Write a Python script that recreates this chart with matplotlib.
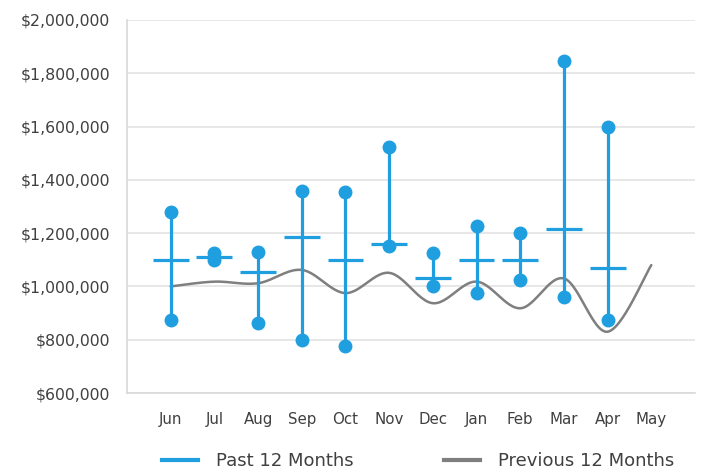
import numpy as np
import matplotlib
matplotlib.use("Agg")
import matplotlib.pyplot as plt
from matplotlib.lines import Line2D
from matplotlib.ticker import FuncFormatter

months = ["Jun", "Jul", "Aug", "Sep", "Oct", "Nov", "Dec", "Jan", "Feb", "Mar", "Apr", "May"]
past_high = [1280000, 1125000, 1130000, 1360000, 1355000, 1525000, 1125000, 1225000, 1200000, 1845000, 1598000]
past_low = [875000, 1098000, 862000, 800000, 775000, 1150000, 1000000, 975000, 1025000, 962000, 875000]
past_avg = [1100000, 1112000, 1055000, 1187000, 1100000, 1160000, 1033000, 1100000, 1100000, 1215000, 1070000]
previous = [1000000, 1018000, 1012000, 1062000, 975000, 1051000, 937000, 1018000, 918000, 1030000, 830000, 1080000]

BLUE = "#1f9fe0"
GRAY = "#7f7f7f"
TXT = "#404040"
GRID = "#e3e3e3"

fig = plt.figure(figsize=(7.01, 4.72), dpi=100)
ax = fig.add_axes([127/701, 1-393/472, (695-127)/701, (393-20)/472])

# smoothed previous-12-months line (Catmull-Rom bezier, like Excel's smooth line)
px = np.arange(len(previous), dtype=float)
py = np.array(previous, dtype=float)
sx, sy = [], []
n = len(px)
for i in range(n - 1):
    p0 = (px[max(i-1, 0)], py[max(i-1, 0)])
    p1 = (px[i], py[i])
    p2 = (px[i+1], py[i+1])
    p3 = (px[min(i+2, n-1)], py[min(i+2, n-1)])
    c1 = (p1[0] + (p2[0]-p0[0])/6, p1[1] + (p2[1]-p0[1])/6)
    c2 = (p2[0] - (p3[0]-p1[0])/6, p2[1] - (p3[1]-p1[1])/6)
    t = np.linspace(0, 1, 30)
    bx = (1-t)**3*p1[0] + 3*(1-t)**2*t*c1[0] + 3*(1-t)*t**2*c2[0] + t**3*p2[0]
    by = (1-t)**3*p1[1] + 3*(1-t)**2*t*c1[1] + 3*(1-t)*t**2*c2[1] + t**3*p2[1]
    sx.extend(bx); sy.extend(by)
ax.plot(sx, sy, color=GRAY, lw=1.8, zorder=2, solid_capstyle="round")

xs = np.arange(len(past_high))
ax.vlines(xs, past_low, past_high, color=BLUE, lw=2.3, zorder=3)
ax.plot(xs, past_high, "o", color=BLUE, ms=9, zorder=4)
ax.plot(xs, past_low, "o", color=BLUE, ms=9, zorder=4)
ax.hlines(past_avg, xs-0.41, xs+0.41, color=BLUE, lw=2.3, zorder=4)

ax.set_xlim(-1, 12)
ax.set_ylim(600000, 2000000)
ax.set_yticks(np.arange(600000, 2000001, 200000))
ax.yaxis.set_major_formatter(FuncFormatter(lambda v, p: "${:,.0f}".format(v)))
ax.set_xticks(np.arange(len(months)))
ax.set_xticklabels(months)
ax.grid(axis="y", color=GRID, lw=1.2)
ax.set_axisbelow(True)
for s in ["top", "right"]:
    ax.spines[s].set_visible(False)
for s in ["left", "bottom"]:
    ax.spines[s].set_color("#d9d9d9")
    ax.spines[s].set_linewidth(1.2)
ax.tick_params(axis="y", length=0, pad=12, labelsize=11.3, labelcolor=TXT)
ax.tick_params(axis="x", length=0, pad=14, labelsize=10.8, labelcolor=TXT)

handles = [Line2D([], [], color=BLUE, lw=3), Line2D([], [], color=GRAY, lw=3)]
fig.legend(handles, ["Past 12 Months", "Previous 12 Months"], loc="center",
           bbox_to_anchor=(418/701, 1-461/472), ncol=2, frameon=False,
           fontsize=13, handlelength=2.0, handletextpad=1.0, columnspacing=5.0,
           labelcolor=TXT)

fig.savefig("out.png", dpi=100)
